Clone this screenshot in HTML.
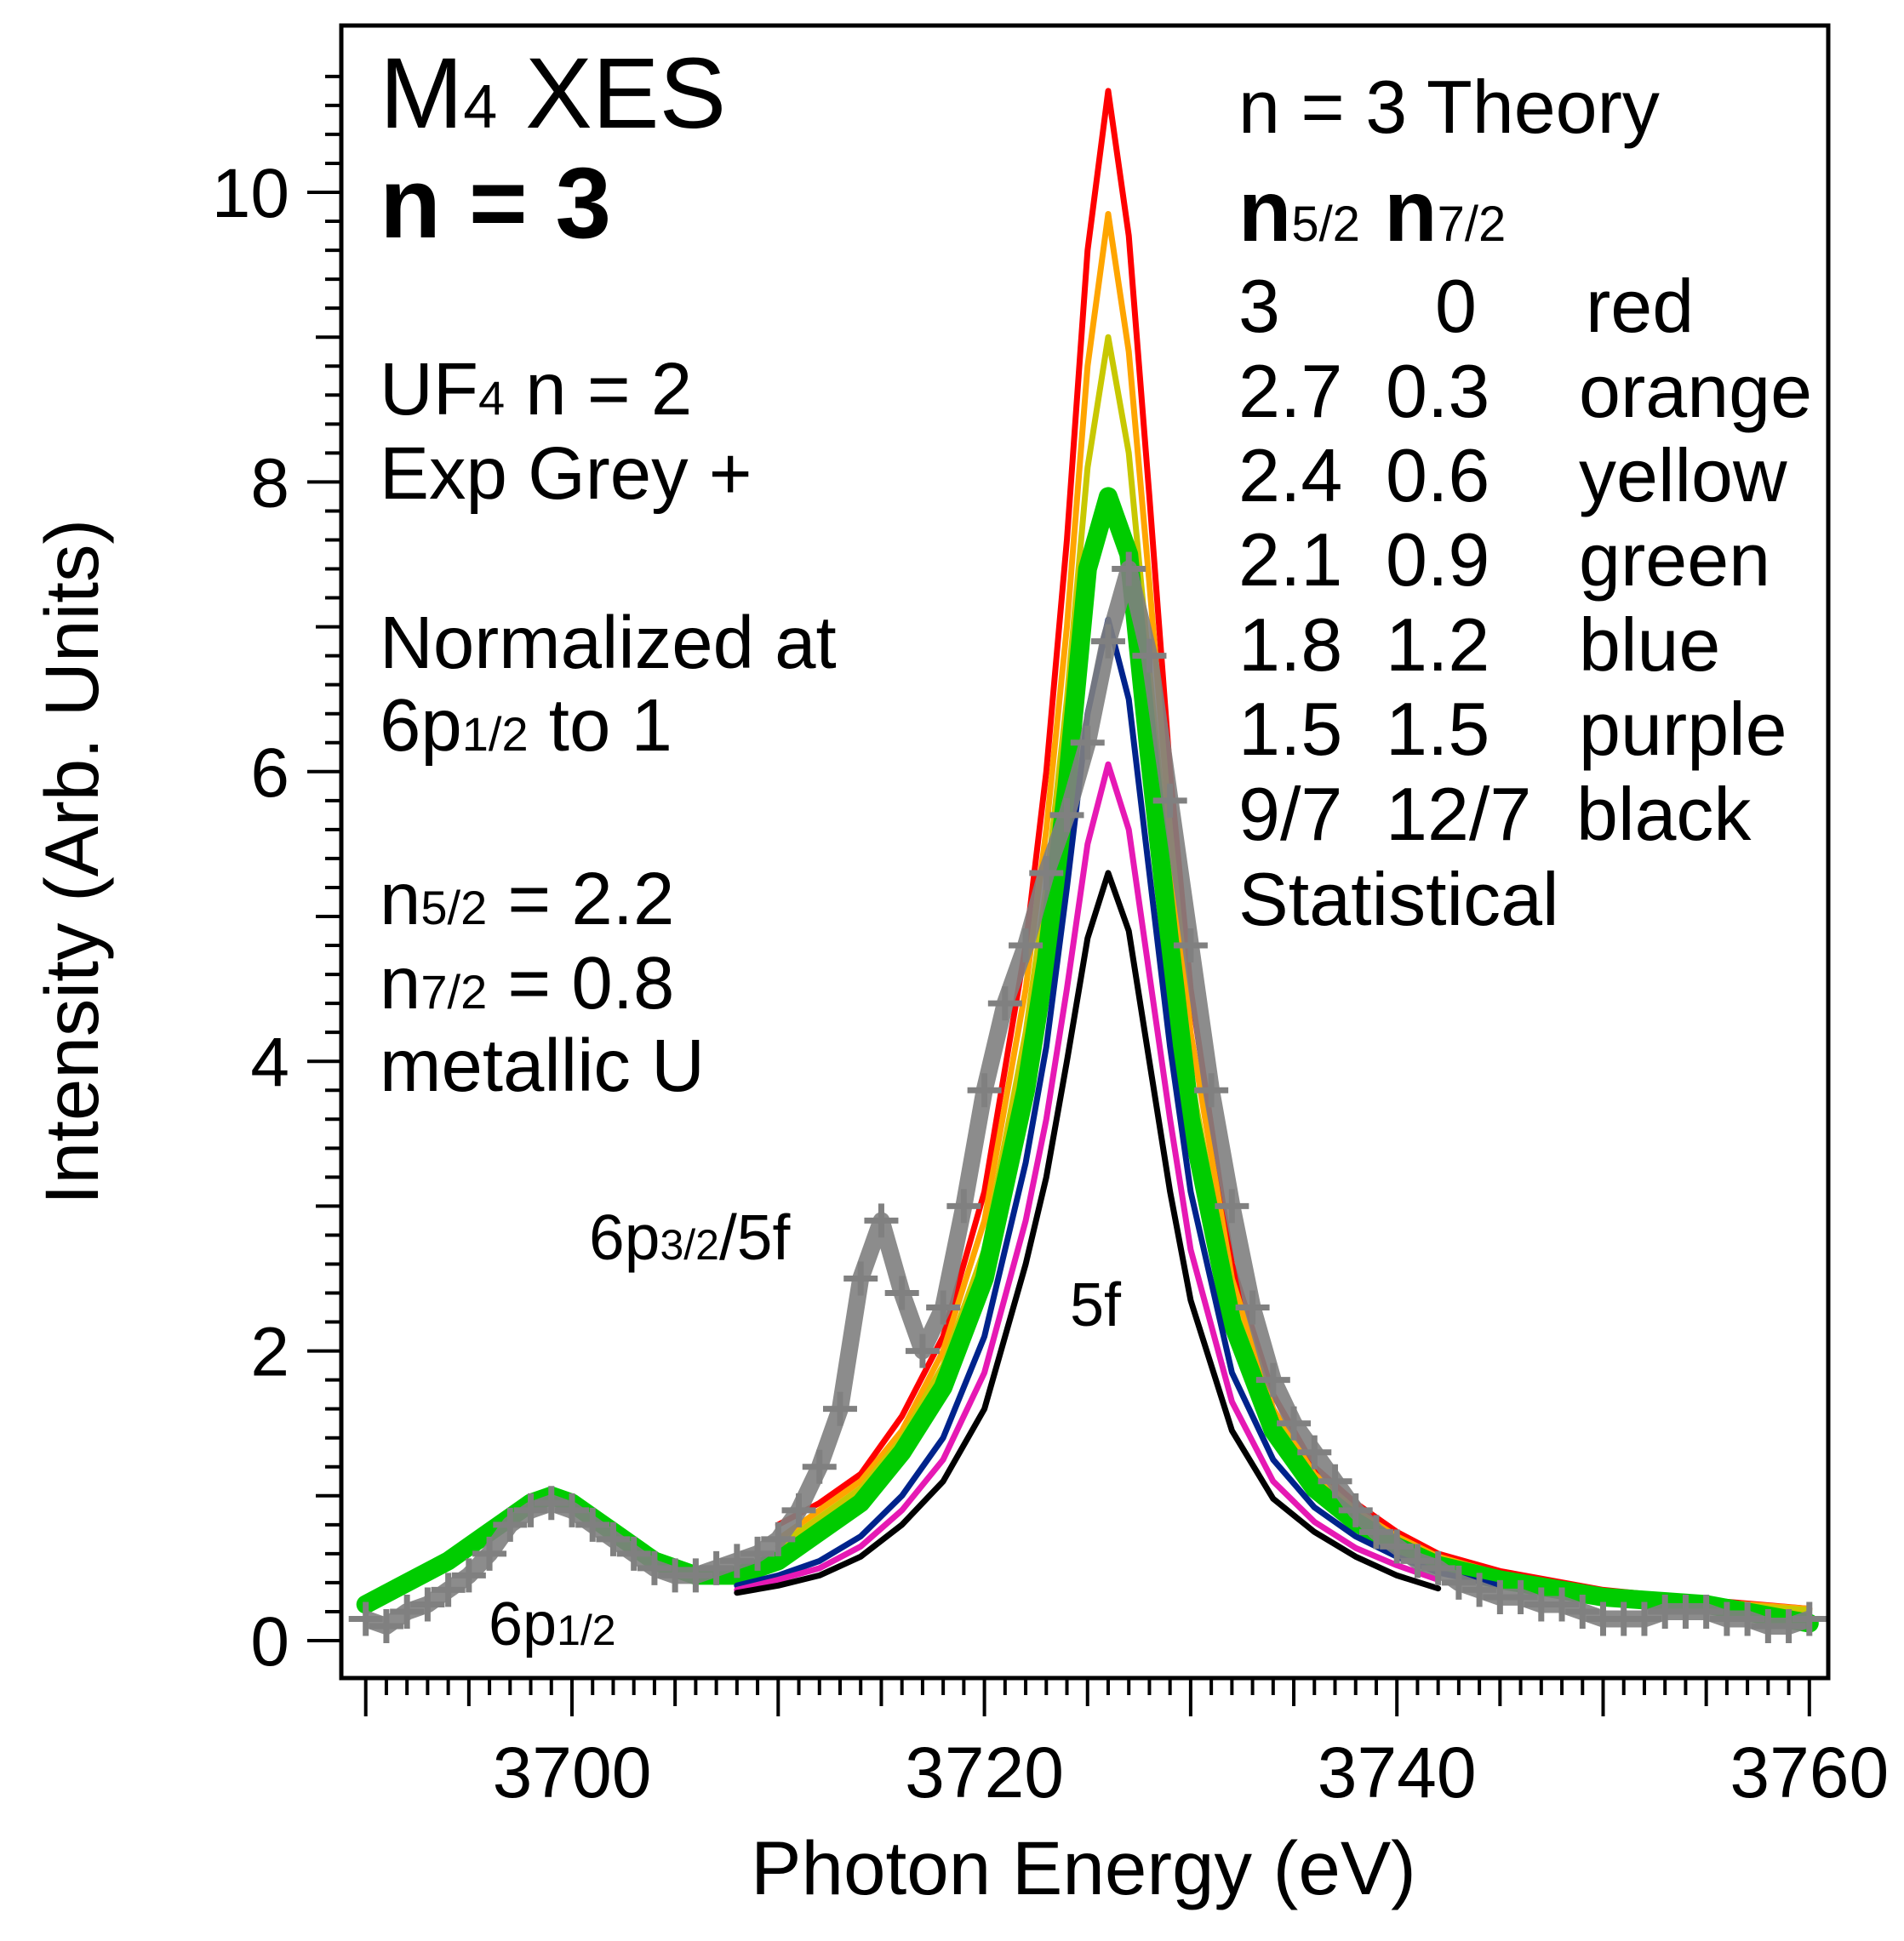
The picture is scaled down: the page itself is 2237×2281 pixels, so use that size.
<!DOCTYPE html>
<html><head><meta charset="utf-8"><style>
html,body{margin:0;padding:0;background:#fff}
svg{display:block}
text{font-family:"Liberation Sans",Arial,sans-serif;fill:#000}
</style></head><body>
<svg id="chart" width="2237" height="2281" viewBox="0 0 2237 2281" xmlns="http://www.w3.org/2000/svg">
<g id="marks"></g>
<g id="axes"></g>
<g>
<text x="446" y="150" font-size="118">M<tspan font-size="72">4</tspan> XES</text>
<text x="446" y="279" font-size="118" font-weight="bold">n = 3</text>
<g font-size="87">
<text x="446" y="487">UF<tspan font-size="56">4</tspan> n = 2</text>
<text x="446" y="586">Exp Grey +</text>
<text x="446" y="785">Normalized at</text>
<text x="446" y="882">6p<tspan font-size="56">1/2</tspan> to 1</text>
<text x="446" y="1086">n<tspan font-size="56">5/2</tspan> = 2.2</text>
<text x="446" y="1185">n<tspan font-size="56">7/2</tspan> = 0.8</text>
<text x="446" y="1282">metallic U</text>
</g>
<g font-size="88">
<text x="1455" y="156">n = 3 Theory</text>
<text x="1455" y="283" font-size="102" font-weight="bold">n<tspan font-size="58" font-weight="normal">5/2</tspan> n<tspan font-size="58" font-weight="normal">7/2</tspan></text>
<text x="1455" y="390">3</text><text x="1686" y="390">0</text><text x="1863" y="390">red</text>
<text x="1455" y="490">2.7</text><text x="1628" y="490">0.3</text><text x="1855" y="490">orange</text>
<text x="1455" y="589">2.4</text><text x="1628" y="589">0.6</text><text x="1855" y="589">yellow</text>
<text x="1455" y="688">2.1</text><text x="1628" y="688">0.9</text><text x="1855" y="688">green</text>
<text x="1455" y="788">1.8</text><text x="1628" y="788">1.2</text><text x="1855" y="788">blue</text>
<text x="1455" y="887">1.5</text><text x="1628" y="887">1.5</text><text x="1855" y="887">purple</text>
<text x="1455" y="987">9/7</text><text x="1628" y="987">12/7</text><text x="1852" y="987">black</text>
<text x="1455" y="1087">Statistical</text>
</g>
<text x="692" y="1480" font-size="75">6p<tspan font-size="50">3/2</tspan>/5f</text>
<text x="1257" y="1558" font-size="72">5f</text>
<text x="574" y="1933" font-size="72">6p<tspan font-size="50">1/2</tspan></text>
<text x="1273" y="2226" font-size="89" text-anchor="middle">Photon Energy (eV)</text>
<text transform="translate(115,1013) rotate(-90)" font-size="89" text-anchor="middle">Intensity (Arb. Units)</text>
</g>
</svg>
<script>
const energies=[3690,3692,3694,3696,3698,3699,3700,3702,3704,3706,3708,3710,3712,3714,3716,3718,3720,3722,3723,3724,3725,3726,3727,3728,3729,3730,3732,3734,3736,3738,3740,3742,3745,3750,3755,3760];
const N=null;
const greenVals=[0.25,0.4,0.55,0.75,0.95,1.0,0.95,0.75,0.55,0.45,0.45,0.55,0.75,0.95,1.3,1.75,2.5,3.8,4.7,5.9,7.4,7.9,7.5,6.1,4.8,3.6,2.2,1.45,1.05,0.82,0.65,0.52,0.42,0.3,0.25,0.12];
const redVals=[N,N,N,N,N,N,N,N,N,N,N,0.8,0.95,1.15,1.55,2.1,3.1,4.8,6.0,7.6,9.6,10.7,9.7,7.9,6.0,4.5,2.6,1.7,1.2,0.95,0.75,0.6,0.48,0.35,0.28,0.22];
const orangeVals=[N,N,N,N,N,N,N,N,N,N,N,0.7,0.9,1.1,1.45,2.0,2.9,4.5,5.6,7.0,8.8,9.85,8.9,7.3,5.6,4.2,2.5,1.6,1.15,0.9,0.72,0.58,0.46,0.34,0.27,0.22];
const yellowVals=[N,N,N,N,N,N,N,N,N,N,N,0.65,0.85,1.05,1.4,1.9,2.7,4.2,5.2,6.5,8.1,9.0,8.2,6.7,5.2,3.9,2.35,1.55,1.1,0.87,0.7,0.56,0.45,0.33,0.26,0.21];
const blueVals=[N,N,N,N,N,N,N,N,N,N,0.38,0.45,0.55,0.72,1.0,1.4,2.1,3.3,4.1,5.2,6.4,7.05,6.5,5.3,4.1,3.1,1.85,1.25,0.92,0.72,0.58,0.47,0.38,N,N,N];
const purpleVals=[N,N,N,N,N,N,N,N,N,N,0.35,0.42,0.5,0.65,0.9,1.25,1.85,2.9,3.6,4.5,5.5,6.05,5.6,4.6,3.6,2.7,1.65,1.1,0.82,0.64,0.52,0.42,N,N,N,N];
const blackVals=[N,N,N,N,N,N,N,N,N,N,0.33,0.38,0.45,0.58,0.8,1.1,1.6,2.6,3.2,4.0,4.85,5.3,4.9,4.0,3.1,2.35,1.45,0.98,0.75,0.58,0.45,0.36,N,N,N,N];
const expE=[3690,3691,3692,3693,3694,3695,3696,3697,3698,3699,3700,3701,3702,3703,3704,3705,3706,3707,3708,3709,3710,3711,3712,3713,3714,3715,3716,3717,3718,3719,3720,3721,3722,3723,3724,3725,3726,3727,3728,3729,3730,3731,3732,3733,3734,3735,3736,3737,3738,3739,3740,3741,3742,3743,3744,3745,3746,3747,3748,3749,3750,3751,3752,3753,3754,3755,3756,3757,3758,3759,3760];
const expVals=[0.15,0.1,0.2,0.25,0.35,0.45,0.6,0.8,0.9,0.95,0.9,0.8,0.7,0.6,0.5,0.45,0.45,0.5,0.55,0.6,0.7,0.9,1.2,1.6,2.5,2.9,2.4,2.0,2.3,3.0,3.8,4.4,4.8,5.3,5.7,6.2,6.9,7.4,6.8,5.8,4.8,3.8,3.0,2.3,1.8,1.5,1.3,1.1,0.9,0.75,0.65,0.55,0.5,0.4,0.35,0.3,0.3,0.25,0.25,0.2,0.15,0.15,0.15,0.2,0.2,0.2,0.15,0.15,0.1,0.1,0.15];
const xTickLabels=[3700,3720,3740,3760];
const yTickLabels=[0,2,4,6,8,10];

const NS="http://www.w3.org/2000/svg";
const X0=3700,PX0=672,PXU=24.23,Y0=1928,PYU=170.2;
function xs(e){return PX0+(e-X0)*PXU;}
function ys(v){return Y0-v*PYU;}
function mk(tag,attrs,parent){const el=document.createElementNS(NS,tag);for(const k in attrs)el.setAttribute(k,attrs[k]);parent.appendChild(el);return el;}
const marks=document.getElementById('marks');
const axes=document.getElementById('axes');
function pathFor(E,V){let d='',pen=false;for(let i=0;i<E.length;i++){if(V[i]===null){pen=false;continue;}d+=(pen?'L':'M')+xs(E[i]).toFixed(1)+','+ys(V[i]).toFixed(1);pen=true;}return d;}
function series(vals,color,w,name){const p=mk('path',{d:pathFor(energies,vals),fill:'none',stroke:color,'stroke-width':w,'stroke-linejoin':'round','stroke-linecap':'round'},marks);

}
series(redVals,'#ff0000',7,'series-red');
series(orangeVals,'#ffa500',7,'series-orange');
series(yellowVals,'#c8c800',7,'series-yellow');
series(greenVals,'#00cc00',22,'series-green');
series(blueVals,'#00238c',7,'series-blue');
series(purpleVals,'#e619b4',7,'series-purple');
series(blackVals,'#000000',7,'series-black');
const band=mk('path',{d:pathFor(expE,expVals),fill:'none',stroke:'#808080','stroke-width':20,'stroke-linejoin':'round',opacity:0.9},marks);


for(let i=0;i<expE.length;i++){const cx=xs(expE[i]),cy=ys(expVals[i]);
const c=mk('path',{d:`M${cx-20},${cy}H${cx+20}M${cx},${cy-20}V${cy+20}`,stroke:'#808080','stroke-width':7,fill:'none'},marks);

}
const fr=mk('rect',{x:401,y:30,width:1747,height:1942,fill:'none',stroke:'#000','stroke-width':5},axes);


for(let k=0;k<=54;k++){const v=k*0.2;const y=ys(v);const isMaj=k%10===0,isMid=k%5===0;const L=isMaj?40:(isMid?30:19);
const t=mk('line',{x1:401-L,x2:401,y1:y,y2:y,stroke:'#000','stroke-width':4},axes);

}
yTickLabels.forEach(v=>{const t=mk('text',{x:340,y:ys(v)+29,'font-size':82,'text-anchor':'end'},axes);t.textContent=v;

});
for(let e=3690;e<=3760;e++){const x=xs(e);const L=e%10===0?45:(e%5===0?33:20);
const t=mk('line',{x1:x,x2:x,y1:1972,y2:1972+L,stroke:'#000','stroke-width':4},axes);

}
xTickLabels.forEach(e=>{const t=mk('text',{x:xs(e),y:2112,'font-size':84,'text-anchor':'middle'},axes);t.textContent=e;

});
</script>
</body></html>
